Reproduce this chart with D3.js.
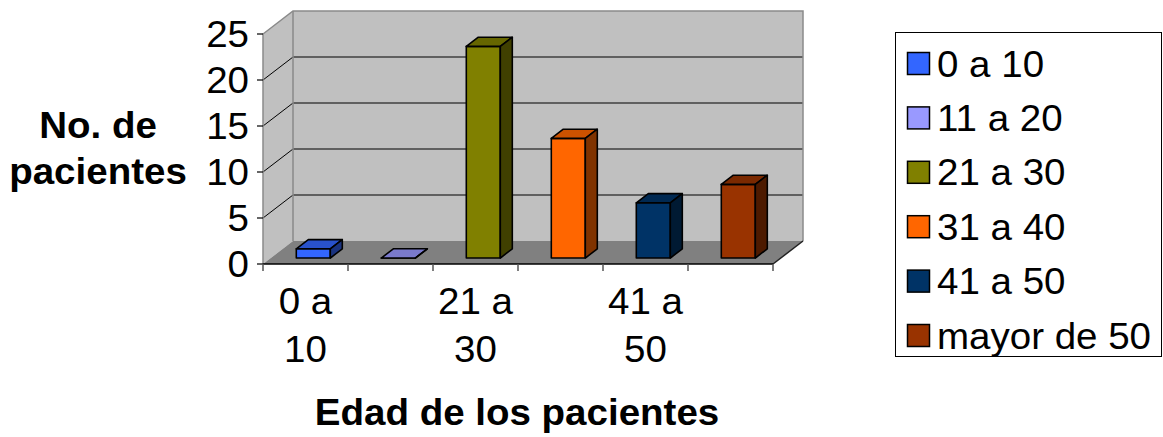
<!DOCTYPE html>
<html>
<head>
<meta charset="utf-8">
<script src="https://cdn.jsdelivr.net/npm/d3@7"></script>
<style>
  html, body { margin: 0; padding: 0; background: #ffffff; }
  svg { display: block; }
  text { font-family: "Liberation Sans", Arial, sans-serif; fill: #000; }
</style>
</head>
<body>
<svg id="chart" width="1163" height="437"></svg>
<script>
// Patients per age group
const categories = ["0 a 10", "11 a 20", "21 a 30", "31 a 40", "41 a 50", "mayor de 50"];
const values = [1, 0, 23, 13, 6, 8];
const yTicks = [0, 5, 10, 15, 20, 25];
const xTickLabels = ["0 a 10", "21 a 30", "41 a 50"];
const palette = ["#3366FF", "#9999FF", "#808000", "#FF6600", "#003366", "#993300"];

const svg = d3.select("#chart");
const FONT = 36, STRETCH = 1.07;

// Plot frame (front plane) and depth of the 3-D box
const plotL = 263, plotR = 773, plotB = 264, plotT = 34;
const DX = 30, DY = -23;
const barFront = 0.26, barBack = 0.66;   // bar depth position as share of box depth

const x = d3.scaleBand().domain(categories).range([plotL, plotR]);
const y = d3.scaleLinear().domain([0, 25]).range([plotB, plotT]);

function shade(c, k) {
  const r = d3.rgb(c);
  return d3.rgb(r.r * k, r.g * k, r.b * k).formatHex();
}
function label(g, text, px, py, anchor, weight) {
  return g.append("text")
    .attr("transform", `translate(${px},${py}) scale(${STRETCH},1)`)
    .attr("text-anchor", anchor)
    .attr("font-size", FONT)
    .attr("font-weight", weight || "normal")
    .text(text);
}
const pts = a => a.map(p => p.join(",")).join(" ");

// Walls and floor
const box = svg.append("g");
box.append("polygon")
  .attr("points", pts([[plotL, y(25)], [plotL + DX, y(25) + DY], [plotL + DX, plotB + DY], [plotL, plotB]]))
  .attr("fill", "#C0C0C0");
box.append("rect")
  .attr("x", plotL + DX).attr("y", y(25) + DY)
  .attr("width", plotR - plotL).attr("height", plotB - y(25))
  .attr("fill", "#C0C0C0");
box.append("polygon")
  .attr("points", pts([[plotL, plotB], [plotR, plotB], [plotR + DX, plotB + DY], [plotL + DX, plotB + DY]]))
  .attr("fill", "#808080");

// Gridlines across side wall and back wall
yTicks.filter(t => t > 0 && t < 25).forEach(t => {
  box.append("line")
    .attr("x1", plotL).attr("y1", y(t)).attr("x2", plotL + DX).attr("y2", y(t) + DY)
    .attr("stroke", "#000").attr("stroke-width", 1);
  box.append("line")
    .attr("x1", plotL + DX).attr("y1", y(t) + DY).attr("x2", plotR + DX).attr("y2", y(t) + DY)
    .attr("stroke", "#000").attr("stroke-width", 1.2);
});

// Box edges
const edge = "#8a8a8a";
box.append("polyline")
  .attr("points", pts([[plotL, plotB], [plotL, y(25)], [plotL + DX, y(25) + DY], [plotR + DX, y(25) + DY], [plotR + DX, plotB + DY]]))
  .attr("fill", "none").attr("stroke", edge).attr("stroke-width", 1.5);
box.append("line")
  .attr("x1", plotL + DX).attr("y1", y(25) + DY).attr("x2", plotL + DX).attr("y2", plotB + DY)
  .attr("stroke", edge).attr("stroke-width", 1.5);
box.append("line")
  .attr("x1", plotR).attr("y1", plotB).attr("x2", plotR + DX).attr("y2", plotB + DY)
  .attr("stroke", "#222").attr("stroke-width", 1.5);
box.append("line")
  .attr("x1", plotL).attr("y1", plotB).attr("x2", plotR).attr("y2", plotB)
  .attr("stroke", "#000").attr("stroke-width", 1.5);

// Y axis ticks and labels
const yAxis = svg.append("g");
yTicks.forEach(t => {
  yAxis.append("line")
    .attr("x1", plotL - 6).attr("x2", plotL).attr("y1", y(t)).attr("y2", y(t))
    .attr("stroke", "#000").attr("stroke-width", 1.2);
  label(yAxis, t, 249, y(t) + 12.5, "end");
});

// X axis ticks and labels
const xAxis = svg.append("g");
categories.concat([null]).forEach(c => {
  const xp = c ? x(c) : plotR;
  xAxis.append("line")
    .attr("x1", xp).attr("x2", xp).attr("y1", plotB).attr("y2", plotB + 7)
    .attr("stroke", "#555").attr("stroke-width", 1.5);
});
xTickLabels.forEach(c => {
  const cx = x(c) + x.bandwidth() / 2;
  const parts = c.split(" ");
  label(xAxis, parts.slice(0, -1).join(" "), cx, 314, "middle");
  label(xAxis, parts[parts.length - 1], cx, 362, "middle");
});

// Axis titles
label(svg, "No. de", 98, 138, "middle", "bold");
label(svg, "pacientes", 98, 184, "middle", "bold");
label(svg, "Edad de los pacientes", 517, 425, "middle", "bold");

// 3-D columns
const bars = svg.append("g");
const bw = x.bandwidth() * 0.4;
categories.forEach((c, i) => {
  const v = values[i];
  const fx = x(c) + x.bandwidth() * 0.3 + DX * barFront;
  const fb = plotB + DY * barFront;
  const ft = y(v) + DY * barFront;
  const ddx = DX * (barBack - barFront), ddy = DY * (barBack - barFront);
  const col = palette[i];
  const faces = [
    { p: [[fx, fb], [fx + bw, fb], [fx + bw, ft], [fx, ft]], f: col },
    { p: [[fx, ft], [fx + bw, ft], [fx + bw + ddx, ft + ddy], [fx + ddx, ft + ddy]], f: shade(col, 0.8) },
    { p: [[fx + bw, fb], [fx + bw + ddx, fb + ddy], [fx + bw + ddx, ft + ddy], [fx + bw, ft]], f: shade(col, 0.5) }
  ];
  faces.forEach(fc => {
    bars.append("polygon")
      .attr("points", pts(fc.p))
      .attr("fill", fc.f)
      .attr("stroke", "#000").attr("stroke-width", 1.6)
      .attr("stroke-linejoin", "round");
  });
});

// Legend
const lg = svg.append("g");
lg.append("rect")
  .attr("x", 895.5).attr("y", 32.5).attr("width", 266).attr("height", 324)
  .attr("fill", "#fff").attr("stroke", "#000").attr("stroke-width", 1);
categories.forEach((c, i) => {
  const cy = 63.5 + i * 54.4;
  lg.append("rect")
    .attr("x", 907.5).attr("y", cy - 11).attr("width", 22).attr("height", 22)
    .attr("fill", palette[i]).attr("stroke", "#000").attr("stroke-width", 1.5);
  label(lg, c, 937, cy + 13, "start");
});
</script>
</body>
</html>
